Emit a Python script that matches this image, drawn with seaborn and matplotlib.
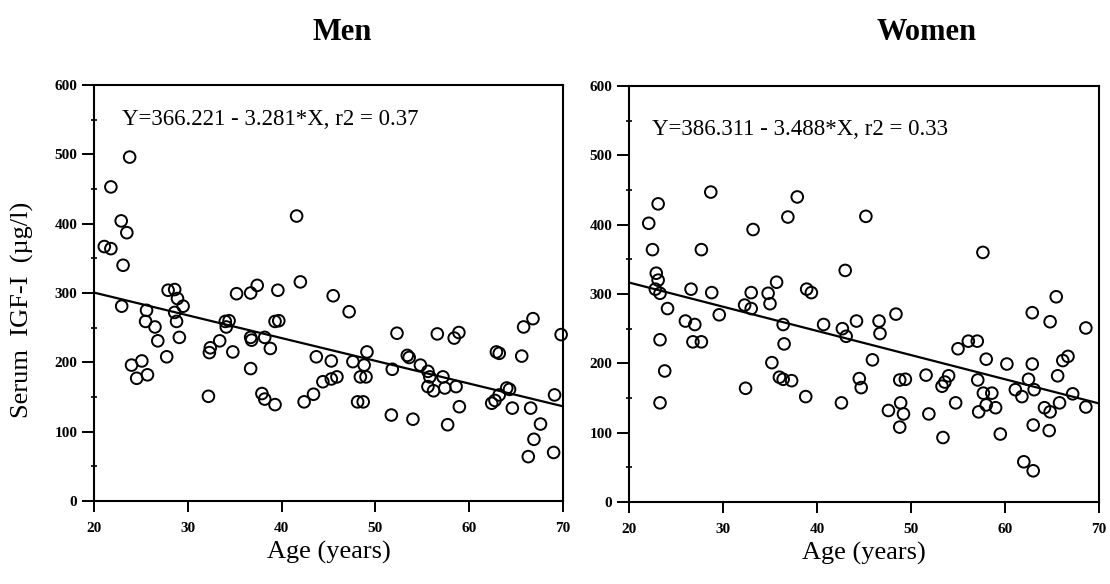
import numpy as np
import pandas as pd
import matplotlib
matplotlib.use("Agg")
import matplotlib.pyplot as plt
import seaborn as sns

# Serum IGF-I versus age, men
men_age = [21.1, 21.8, 21.8, 22.9, 23.5, 23.1, 23.8, 22.95, 24.0, 25.1, 24.55, 25.7,
           25.6, 25.5, 26.5, 26.8, 27.75, 27.9, 28.6, 28.9, 29.5, 28.6, 28.8, 29.1,
           32.2, 32.4, 32.3, 33.4, 34.8, 34.0, 34.4, 34.1, 35.2, 36.7, 37.4, 36.7,
           36.8, 36.7, 38.2, 38.8, 37.9, 38.2, 39.3, 39.3, 39.7, 39.6, 41.6, 42.0,
           43.7, 42.4, 43.4, 45.5, 47.2, 45.3, 47.6, 49.1, 48.8, 48.4, 49.0, 45.9,
           45.3, 44.4, 48.1, 48.7, 52.3, 51.8, 53.4, 53.6, 51.7, 54.0, 54.8, 55.6,
           55.8, 55.6, 56.2, 57.2, 57.4, 58.6, 58.95, 57.7, 56.6, 58.4, 58.9, 62.4,
           62.75, 63.2, 64.0, 64.3, 64.6, 66.55, 67.6, 66.9, 66.3, 62.9, 63.2, 65.6,
           65.8, 66.8, 69.8, 69.0, 69.1]
men_igf = [367, 364, 453, 404, 387, 340, 496, 281, 196, 202, 177, 182,
           275, 259, 251, 231, 208, 304, 305, 292, 281, 272, 259, 236,
           151, 221, 214, 231, 215, 259, 260, 251, 299, 300, 311, 236,
           232, 191, 236, 220, 155, 147, 139, 259, 260, 304, 411, 316,
           208, 143, 154, 296, 273, 202, 201, 215, 196, 179, 179, 179,
           176, 172, 143, 143, 242, 190, 210, 207, 124, 118, 196, 187,
           179, 165, 159, 179, 163, 165, 136, 110, 241, 235, 243, 141,
           145, 153, 163, 161, 134, 134, 111, 89, 64, 215, 213, 209,
           251, 263, 240, 70, 153]

# Serum IGF-I versus age, women
women_age = [22.1, 23.1, 22.5, 22.9, 23.1, 22.8, 23.3, 24.1, 23.3, 23.8, 23.3, 26.6,
             26.0, 27.0, 26.8, 27.7, 27.7, 28.7, 28.8, 29.6, 33.2, 33.0, 32.3, 33.0,
             32.4, 34.8, 35.0, 35.7, 36.9, 37.9, 36.4, 36.5, 35.2, 36.0, 36.4, 37.3,
             38.9, 39.4, 38.8, 40.7, 42.7, 43.1, 43.0, 42.6, 44.2, 45.2, 46.6, 46.7,
             48.4, 45.9, 44.5, 44.7, 48.8, 49.4, 47.6, 48.9, 49.2, 48.8, 51.6, 51.9,
             53.4, 53.3, 53.6, 54.0, 54.75, 55.0, 56.1, 57.05, 57.1, 58.0, 57.7, 58.6,
             58.0, 57.2, 59.0, 59.5, 57.65, 60.2, 61.1, 61.8, 62.5, 62.9, 63.1, 62.9,
             65.45, 64.8, 63.0, 62.0, 63.0, 64.2, 64.8, 64.7, 65.8, 65.6, 66.15, 66.7,
             67.2, 68.6, 68.6]
women_igf = [402, 430, 364, 330, 320, 307, 301, 279, 234, 189, 143, 307,
             261, 256, 231, 231, 364, 447, 302, 270, 393, 302, 284, 279,
             164, 301, 286, 317, 411, 440, 256, 228, 201, 180, 177, 175,
             307, 302, 152, 256, 250, 239, 334, 143, 261, 412, 261, 243,
             271, 205, 178, 165, 176, 177, 132, 143, 127, 108, 183, 127,
             93, 167, 173, 182, 143, 221, 232, 232, 176, 206, 157, 157,
             140, 130, 136, 98, 360, 199, 162, 152, 177, 199, 162, 273,
             296, 260, 111, 58, 45, 136, 130, 103, 143, 182, 204, 210,
             156, 251, 137]

# Least-squares fits printed on each panel
men_fit = {"intercept": 366.221, "slope": -3.281, "r2": 0.37}
women_fit = {"intercept": 386.311, "slope": -3.488, "r2": 0.33}

panel_titles = ["Men", "Women"]
x_ticks = [20, 30, 40, 50, 60, 70]
y_ticks = [0, 100, 200, 300, 400, 500, 600]

sns.set_style("ticks")
plt.rcParams["font.family"] = ["Liberation Serif", "DejaVu Serif"]
plt.rcParams["text.color"] = "black"
plt.rcParams["axes.labelcolor"] = "black"
plt.rcParams["xtick.color"] = "black"
plt.rcParams["ytick.color"] = "black"

fig = plt.figure(figsize=(11.1, 5.84), dpi=100)
ax_m = fig.add_axes([94 / 1110, 1 - 501 / 584, 469 / 1110, 416 / 584])
ax_w = fig.add_axes([629 / 1110, 1 - 502 / 584, 470 / 1110, 416 / 584])

panels = [
    (ax_m, men_age, men_igf, men_fit, (23.0, 543)),
    (ax_w, women_age, women_igf, women_fit, (22.4, 530)),
]

for ax, age, igf, fit, eq_pos in panels:
    df = pd.DataFrame({"age": age, "igf": igf})
    sns.scatterplot(data=df, x="age", y="igf", ax=ax, marker="o", s=70,
                    facecolor="none", edgecolor="black", linewidth=1.4,
                    legend=False, zorder=3, clip_on=False)
    xs = np.array([x_ticks[0], x_ticks[-1]], dtype=float)
    line_df = pd.DataFrame({"age": xs, "igf": fit["intercept"] + fit["slope"] * xs})
    sns.lineplot(data=line_df, x="age", y="igf", ax=ax, color="black",
                 linewidth=1.6, zorder=2)
    ax.text(eq_pos[0], eq_pos[1],
            f"Y={fit['intercept']:.3f} - {abs(fit['slope']):.3f}*X, r2 = {fit['r2']:.2f}",
            fontsize=16.5, va="baseline", ha="left", color="black")

    ax.set_xlim(20, 70)
    ax.set_ylim(0, 600)
    ax.set_xticks(x_ticks)
    ax.set_yticks(y_ticks)
    ax.set_yticks(np.arange(50, 600, 100), minor=True)
    for sp in ax.spines.values():
        sp.set_visible(True)
        sp.set_linewidth(1.5)
        sp.set_color("black")
    ax.tick_params(axis="x", which="major", direction="out", length=8,
                   width=1.4, pad=7, labelsize=11, colors="black")
    ax.tick_params(axis="y", which="major", direction="out", length=9,
                   width=1.4, pad=3, labelsize=11, colors="black")
    ax.tick_params(axis="y", which="minor", direction="inout", length=5,
                   width=1.2, colors="black")
    for lab in ax.get_xticklabels() + ax.get_yticklabels():
        lab.set_fontweight("bold")
    ax.set_xlabel("Age (years)", fontsize=19, color="black")
    ax.xaxis.set_label_coords(0.5, -0.095)
    ax.set_ylabel("")

ax_m.set_ylabel("Serum  IGF-I  (\u00b5g/l)", fontsize=19, color="black")
ax_m.yaxis.set_label_coords(-0.128, 0.46)

fig.text(342 / 1110, 1 - 33 / 584, panel_titles[0], fontsize=22,
         fontweight="bold", ha="center", va="center", color="black")
fig.text(927 / 1110, 1 - 33 / 584, panel_titles[1], fontsize=22,
         fontweight="bold", ha="center", va="center", color="black")

fig.savefig("out.png", dpi=100, facecolor="white")
